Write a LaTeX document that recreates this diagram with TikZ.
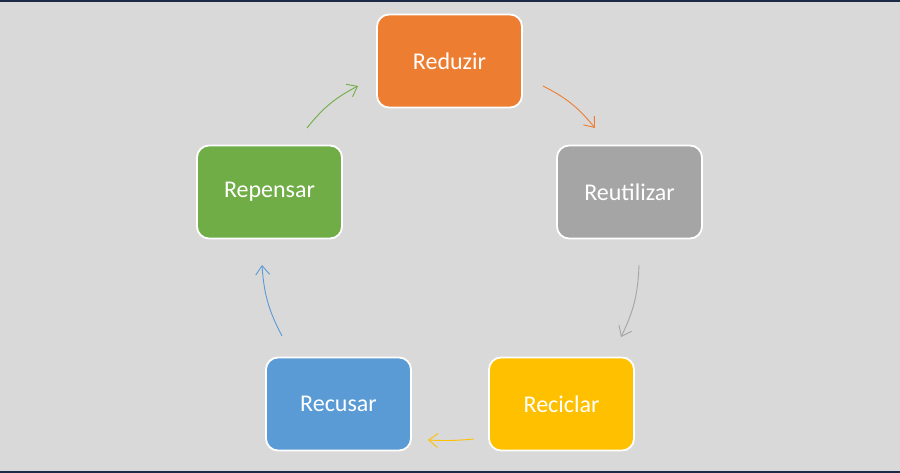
\documentclass[tikz,border=0pt]{standalone}
\usepackage{fontspec}
\setmainfont{Carlito}
\usetikzlibrary{arrows.meta}
\definecolor{bg}{HTML}{D9D9D9}
\definecolor{navy}{HTML}{1B2A47}
\definecolor{cor}{HTML}{ED7D31}
\definecolor{cgr}{HTML}{A5A5A5}
\definecolor{cye}{HTML}{FFC000}
\definecolor{cbl}{HTML}{5B9BD5}
\definecolor{cgn}{HTML}{70AD47}
\begin{document}
\begin{tikzpicture}[x=1pt,y=-1pt,
  box/.style={draw=white,line width=1.8pt,rounded corners=12pt,minimum width=145pt,minimum height=93pt,text=white,font=\fontsize{24}{28}\selectfont,inner sep=0pt},
  arr/.style={line width=0.9pt,-{Straight Barb[length=9pt,width=14pt]}}]
\useasboundingbox (0,0) rectangle (900,473);
\fill[bg] (0,0) rectangle (900,473);
\fill[navy] (0,0) rectangle (900,2.5);
\fill[navy] (0,470.5) rectangle (900,473);
\node[box,fill=cor] (red) at (449.5,61) {Reduzir};
\node[box,fill=cgr] (reu) at (629.5,192) {Reutilizar};
\node[box,fill=cye] (rec) at (561.5,404) {Reciclar};
\node[box,fill=cbl] (rcu) at (338.5,404) {Recusar};
\node[box,fill=cgn] (rep) at (269.5,192) {Repensar};
\coordinate (a1) at (543,86); \coordinate (a2) at (595,128);
\coordinate (b1) at (639,265); \coordinate (b2) at (621,337);
\coordinate (c1) at (474,439); \coordinate (c2) at (428,440);
\coordinate (d1) at (282,336); \coordinate (d2) at (262,265);
\coordinate (e1) at (307,128); \coordinate (e2) at (358,86);
\draw[arr,cor] (a1) to[bend left=12] (a2);
\draw[arr,cgr] (b1) to[bend left=12] (b2);
\draw[arr,cye] (c1) to[bend left=4] (c2);
\draw[arr,cbl] (d1) to[bend left=12] (d2);
\draw[arr,cgn] (e1) to[bend left=12] (e2);
\end{tikzpicture}
\end{document}
